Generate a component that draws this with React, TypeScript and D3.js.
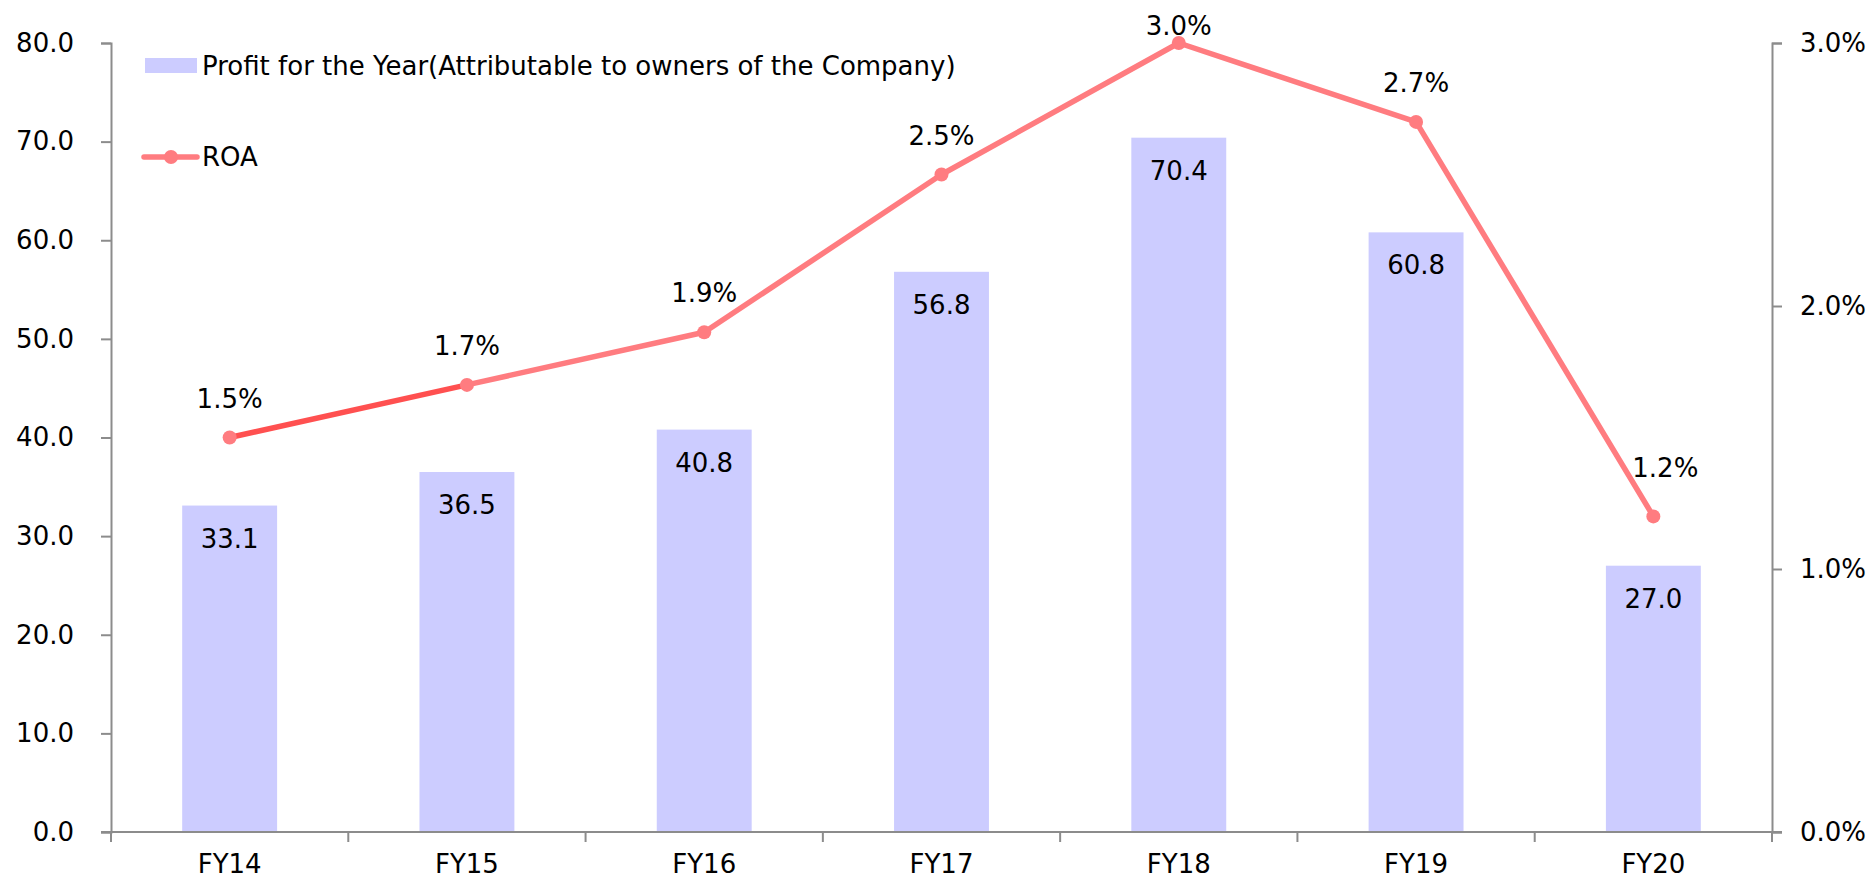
import React, { useEffect, useRef } from 'react';
import * as d3 from 'd3';

const years = ['FY14', 'FY15', 'FY16', 'FY17', 'FY18', 'FY19', 'FY20'];
const profit = [33.1, 36.5, 40.8, 56.8, 70.4, 60.8, 27.0];
const roa = [1.5, 1.7, 1.9, 2.5, 3.0, 2.7, 1.2];
const leftTicks = [0, 10, 20, 30, 40, 50, 60, 70, 80];
const rightTicks = [0, 1, 2, 3];

const W = 1876;
const H = 884;
const FONT = '"DejaVu Sans", Verdana, sans-serif';
const FS = 26;

export default function App() {
  const ref = useRef<SVGSVGElement>(null);

  useEffect(() => {
    document.body.style.margin = '0';
    const svg = d3.select(ref.current);
    svg.selectAll('*').remove();

    const left = 111, right = 1772, top = 43, bottom = 832;

    const x = d3.scaleBand().domain(years).range([left, right]).paddingInner(0.6).paddingOuter(0.3);
    const xc = (d: string) => (x(d) as number) + x.bandwidth() / 2;
    const yL = d3.scaleLinear().domain([0, 80]).range([bottom, top]);
    const yR = d3.scaleLinear().domain([0, 3]).range([bottom, top]);
    const step = (right - left) / years.length;

    const g = svg.append('g').attr('font-family', FONT).attr('font-size', FS).attr('fill', '#000');

    // bars
    g.selectAll('.bar').data(profit).enter().append('rect')
      .attr('x', (d, i) => x(years[i]) as number)
      .attr('width', x.bandwidth())
      .attr('y', d => yL(d))
      .attr('height', d => bottom - yL(d))
      .attr('fill', '#CCCCFF');

    g.selectAll('.barlab').data(profit).enter().append('text')
      .attr('x', (d, i) => xc(years[i]))
      .attr('y', d => yL(d) + 42)
      .attr('text-anchor', 'middle')
      .text(d => d.toFixed(1));

    // axes
    const axisColor = '#8c8c8c';
    const la = g.append('g').attr('transform', `translate(${left},0)`)
      .call(d3.axisLeft(yL).tickValues(leftTicks).tickSize(10).tickFormat(d => (d as number).toFixed(1)));
    const ra = g.append('g').attr('transform', `translate(${right},0)`)
      .call(d3.axisRight(yR).tickValues(rightTicks).tickSize(10).tickFormat(d => (d as number).toFixed(1) + '%'));
    [la, ra].forEach(a => {
      a.select('.domain').attr('stroke', axisColor).attr('stroke-width', 2);
      a.selectAll('.tick line').attr('stroke', axisColor).attr('stroke-width', 2);
      a.selectAll('.tick text').attr('font-family', FONT).attr('font-size', FS).attr('fill', '#000');
    });
    la.selectAll('.tick text').attr('x', -37);
    ra.selectAll('.tick text').attr('x', 28);

    // x axis
    g.append('line').attr('x1', left - 10).attr('x2', right + 10).attr('y1', bottom).attr('y2', bottom)
      .attr('stroke', axisColor).attr('stroke-width', 2);
    g.selectAll('.xtick').data(d3.range(years.length + 1)).enter().append('line')
      .attr('x1', i => left + i * step).attr('x2', i => left + i * step)
      .attr('y1', bottom).attr('y2', bottom + 10)
      .attr('stroke', axisColor).attr('stroke-width', 2);
    g.selectAll('.xlab').data(years).enter().append('text')
      .attr('x', d => xc(d)).attr('y', 873).attr('text-anchor', 'middle').text(d => d);

    // ROA line
    const pts = roa.map((v, i) => [xc(years[i]), yR(v)] as [number, number]);
    const line = d3.line();
    for (let i = 0; i < pts.length - 1; i++) {
      g.append('path').attr('d', line([pts[i], pts[i + 1]]))
        .attr('fill', 'none')
        .attr('stroke', i === 0 ? '#FF5050' : '#FF7C80')
        .attr('stroke-width', 5.5).attr('stroke-linecap', 'round');
    }
    g.selectAll('.pt').data(pts).enter().append('circle')
      .attr('cx', d => d[0]).attr('cy', d => d[1]).attr('r', 7)
      .attr('fill', '#FF7C80');
    // last label sits a bit up-right of its point, clear of the line
    const last = roa.length - 1;
    g.selectAll('.ptlab').data(roa).enter().append('text')
      .attr('x', (d, i) => xc(years[i]) + (i === last ? 12 : 0))
      .attr('y', (d, i) => i === last ? yR(d) - 39 : Math.max(yR(d) - 30, 35))
      .attr('text-anchor', 'middle')
      .text(d => d.toFixed(1) + '%');

    // legend
    g.append('rect').attr('x', 145).attr('y', 58).attr('width', 52).attr('height', 15).attr('fill', '#CCCCFF');
    g.append('text').attr('x', 202).attr('y', 75).text('Profit for the Year(Attributable to owners of the Company)');
    g.append('line').attr('x1', 144).attr('x2', 197).attr('y1', 157).attr('y2', 157)
      .attr('stroke', '#FF7C80').attr('stroke-width', 5.5).attr('stroke-linecap', 'round');
    g.append('circle').attr('cx', 171).attr('cy', 157).attr('r', 7).attr('fill', '#FF7C80');
    g.append('text').attr('x', 202).attr('y', 166).text('ROA');
  }, []);

  return <svg ref={ref} width={W} height={H} style={{ display: 'block', background: '#fff' }} />;
}
